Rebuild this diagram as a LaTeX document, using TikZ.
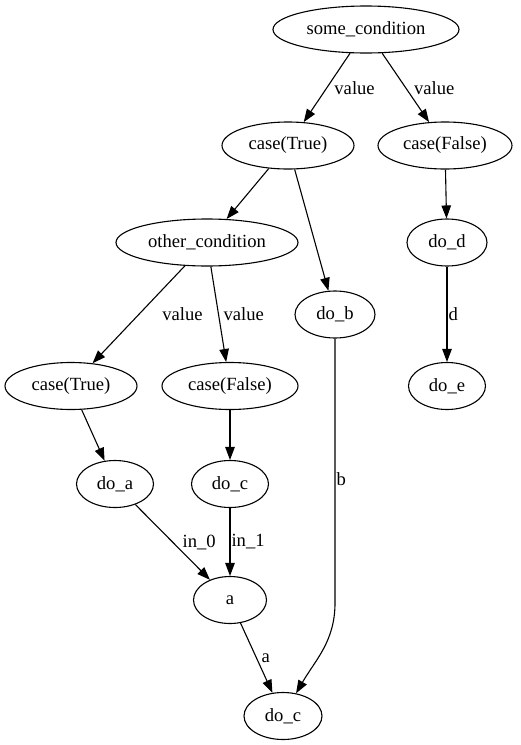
\documentclass[tikz,border=0pt]{standalone}
\usepackage{fontspec}
\setmainfont{Liberation Serif}
\usetikzlibrary{arrows.meta,shapes.geometric}

\begin{document}
\begin{tikzpicture}[x=1pt,y=1pt,>={Triangle[length=13pt,width=9.5pt]},line width=1.1pt,
    font=\fontsize{18.6pt}{22pt}\selectfont,
    op/.style={ellipse,draw,inner sep=0pt,minimum height=47pt,minimum width=#1},
    op/.default=78pt,
    lbl/.style={inner sep=1pt}]
  \useasboundingbox (0,0) rectangle (521,-745);

  \node[op=186pt] (cond)   at (366,-29.5)  {some\_condition};
  \node[op=132pt] (true1)  at (288,-145.5) {case(True)};
  \node[op=134pt] (false1) at (445,-145.5) {case(False)};
  \node[op=182pt] (other)  at (207,-242.5) {other\_condition};
  \node[op=80pt]  (dod)    at (447,-242.5) {do\_d};
  \node[op=80pt]  (dob)    at (335,-314.5) {do\_b};
  \node[op=77pt]  (doe)    at (447,-386)   {do\_e};
  \node[op=132pt] (true2)  at (71,-386)    {case(True)};
  \node[op=136pt] (false2) at (230,-386)   {case(False)};
  \node[op=77pt]  (doa)    at (115,-484)   {do\_a};
  \node[op=77pt]  (doc)    at (230,-484)   {do\_c};
  \node[op=73pt]  (av)     at (230,-600)   {a};
  \node[op=78pt]  (doc2)   at (283,-716)   {do\_c};
  \coordinate (bturn) at (335,-603);

  \path[->] (cond)   edge node[lbl,right=6pt] {value} (true1)
                     edge node[lbl,right=7pt] {value} (false1)
            (true1)  edge (other)
                     edge (dob)
            (false1) edge (dod)
            (dod)    edge node[lbl,right=0pt] {d} (doe)
            (other)  edge node[lbl,right=22pt] {value} (true2)
                     edge node[lbl,right=3.5pt] {value} (false2)
            (true2)  edge (doa)
            (false2) edge (doc)
            (doa)    edge node[lbl,right=8.5pt] {in\_0} (av)
            (doc)    edge node[lbl,right=0pt] {in\_1} (av)
            (av)     edge node[lbl,right=3.5pt] {a} (doc2);

  \draw[->] (dob) -- node[lbl,right=0pt,pos=0.53] {b} (bturn)
                  to[out=-90,in=60] (doc2);
\end{tikzpicture}
\end{document}
